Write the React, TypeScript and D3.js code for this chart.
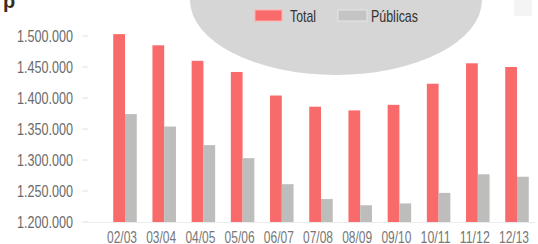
import React from 'react';
import * as d3 from 'd3';

// school years and enrolled students
const years = ['02/03', '03/04', '04/05', '05/06', '06/07', '07/08', '08/09', '09/10', '10/11', '11/12', '12/13'];
const total = [1503000, 1485000, 1460000, 1442000, 1404000, 1386000, 1380000, 1389000, 1423000, 1456000, 1450000];
const publicas = [1374000, 1354000, 1324000, 1303000, 1261000, 1237000, 1227000, 1230000, 1247000, 1277000, 1273000];
const yTicks = [1200000, 1250000, 1300000, 1350000, 1400000, 1450000, 1500000];
const seriesNames = ['Total', 'Públicas'];

const W = 538;
const H = 244;
const RED = '#f96a6a';
const GREY = '#bdbdbb';
const FONT = '"Liberation Sans", Arial, sans-serif';

const fmt = (v: number) => d3.format(',')(v).replace(/,/g, '.');

export default function App() {
  const x = d3.scaleBand<string>()
    .domain(years)
    .range([105.4, 536.6])
    .paddingInner(0.4)
    .paddingOuter(0.2);

  const x1 = d3.scaleBand<string>()
    .domain(seriesNames)
    .range([0, x.bandwidth()]);

  const y = d3.scaleLinear()
    .domain([1200000, 1500000])
    .range([222, 36]);

  const colors = [RED, GREY];
  const values = [total, publicas];

  return (
    <svg width={W} height={H} style={{ position: 'absolute', left: 0, top: 0, background: '#fff' }}>
      {/* grey blob behind the legend */}
      <ellipse cx={336} cy={0} rx={146} ry={75} fill="#d6d6d6" />
      <rect x={514} y={0} width={18} height={16} fill="#f4f4f4" />
      <text x={3} y={8} fontFamily={FONT} fontWeight="bold" fontSize={20} fill="#3a2c1e">p</text>

      {/* y axis */}
      {yTicks.map(t => (
        <g key={t}>
          <text x={73} y={y(t)} textAnchor="end" dominantBaseline="central"
                textLength={56} lengthAdjust="spacingAndGlyphs"
                fontFamily={FONT} fontSize={16.5} fill="#6a6a6a">{fmt(t)}</text>
          <line x1={82} x2={88} y1={y(t)} y2={y(t)} stroke="#e2e2e2" />
        </g>
      ))}
      <line x1={84} x2={535} y1={222.5} y2={222.5} stroke="#ececec" />

      {/* bars */}
      {years.map((yr, i) => (
        <g key={yr} transform={`translate(${x(yr)},0)`}>
          {seriesNames.map((s, k) => (
            <rect key={s} x={x1(s)} y={y(values[k][i])} width={x1.bandwidth()}
                  height={y(1200000) - y(values[k][i])} fill={colors[k]} />
          ))}
        </g>
      ))}

      {/* x labels */}
      {years.map(yr => (
        <text key={yr} x={(x(yr) as number) + x.bandwidth() / 2 - 3} y={237.5}
              textAnchor="middle" dominantBaseline="central"
              textLength={30} lengthAdjust="spacingAndGlyphs"
              fontFamily={FONT} fontSize={16} fill="#777">{yr}</text>
      ))}

      {/* legend */}
      <g>
        <rect x={255} y={10} width={27} height={11} fill={RED} stroke="#ffb0b0" />
        <text x={290} y={16} dominantBaseline="central" textLength={26} lengthAdjust="spacingAndGlyphs"
              fontFamily={FONT} fontSize={17} fill="#333">Total</text>
        <rect x={338} y={10} width={29} height={11} fill="#c4c4c4" stroke="#e6e6e6" />
        <text x={371} y={16} dominantBaseline="central" textLength={47} lengthAdjust="spacingAndGlyphs"
              fontFamily={FONT} fontSize={17} fill="#333">Públicas</text>
      </g>
    </svg>
  );
}
